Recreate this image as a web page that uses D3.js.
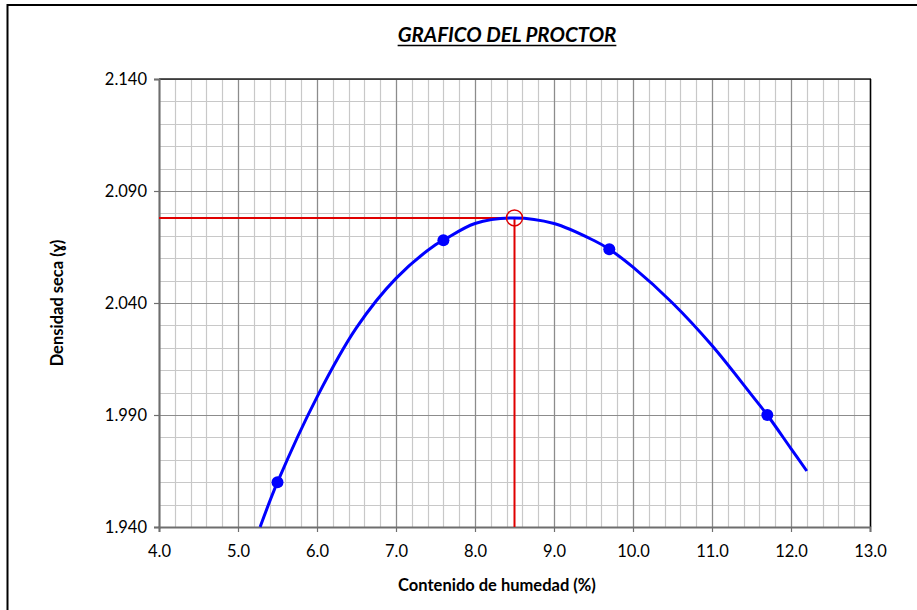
<!DOCTYPE html>
<html>
<head>
<meta charset="utf-8">
<script src="https://cdn.jsdelivr.net/npm/d3@7"></script>
<style>
  html, body { margin: 0; padding: 0; background: #fff; }
  svg { display: block; }
  text { font-family: Lato, "Open Sans", "Liberation Sans", sans-serif; fill: #000; }
</style>
</head>
<body>
<svg id="chart" width="917" height="610"></svg>
<script>
// Proctor test: measured points
const moisture = [5.5, 7.6, 9.7, 11.7];
const dryDensity = [1.960, 2.068, 2.064, 1.990];

// Compaction curve sampled along the moisture range
const curveMoisture = [5.28, 5.5, 6.0, 6.5, 7.0, 7.5, 7.6, 8.0, 8.5, 9.0, 9.5, 9.7, 10.0, 10.5, 11.0, 11.5, 11.7, 12.0, 12.2];
const curveDensity  = [1.940, 1.960, 1.998, 2.029, 2.051, 2.066, 2.068, 2.0755, 2.078, 2.0755, 2.068, 2.064, 2.056, 2.040, 2.021, 1.999, 1.990, 1.975, 1.965];

// Optimum moisture content and maximum dry density
const optimumMoisture = 8.5;
const maxDensity = 2.078;

// Axis ticks
const xTicks = [4, 5, 6, 7, 8, 9, 10, 11, 12, 13];
const yTicks = [1.940, 1.990, 2.040, 2.090, 2.140];

const svg = d3.select("#chart");
const plotL = 159, plotR = 870, plotT = 79, plotB = 527;

const x = d3.scaleLinear().domain([4, 13]).range([plotL, plotR]);
const y = d3.scaleLinear().domain([1.94, 2.14]).range([plotB, plotT]);

// Outer frame
svg.append("rect")
  .attr("x", 7.5).attr("y", 5).attr("width", 940).attr("height", 640)
  .attr("fill", "none").attr("stroke", "#000").attr("stroke-width", 2);

// Minor grid
const minorX = d3.range(4, 13.0001, 0.2);
const minorY = d3.range(1.94, 2.14001, 0.01);
const g = svg.append("g");
g.selectAll(".mx").data(minorX).join("line")
  .attr("x1", d => Math.round(x(d)) + 0.5).attr("x2", d => Math.round(x(d)) + 0.5)
  .attr("y1", plotT).attr("y2", plotB)
  .attr("stroke", "#c8c8c8").attr("stroke-width", 1.2);
g.selectAll(".my").data(minorY).join("line")
  .attr("y1", d => Math.round(y(d)) + 0.5).attr("y2", d => Math.round(y(d)) + 0.5)
  .attr("x1", plotL).attr("x2", plotR)
  .attr("stroke", "#c8c8c8").attr("stroke-width", 1.2);

// Major grid
g.selectAll(".Mx").data(xTicks).join("line")
  .attr("x1", d => Math.round(x(d)) + 0.5).attr("x2", d => Math.round(x(d)) + 0.5)
  .attr("y1", plotT).attr("y2", plotB)
  .attr("stroke", "#8c8c8c").attr("stroke-width", 1.2);
g.selectAll(".My").data(yTicks).join("line")
  .attr("y1", d => Math.round(y(d)) + 0.5).attr("y2", d => Math.round(y(d)) + 0.5)
  .attr("x1", plotL).attr("x2", plotR)
  .attr("stroke", "#8c8c8c").attr("stroke-width", 1.2);

// Plot border: top and right
svg.append("line").attr("x1", plotL).attr("x2", plotR + 1).attr("y1", plotT).attr("y2", plotT)
  .attr("stroke", "#222").attr("stroke-width", 1.5);
svg.append("line").attr("x1", plotR + 0.5).attr("x2", plotR + 0.5).attr("y1", plotT).attr("y2", plotB)
  .attr("stroke", "#000").attr("stroke-width", 1.5);

// Axes
const xAxis = d3.axisBottom(x).tickValues(xTicks).tickFormat(d3.format(".1f")).tickSize(5).tickPadding(13);
const yAxis = d3.axisLeft(y).tickValues(yTicks).tickFormat(d3.format(".3f")).tickSize(5).tickPadding(7);

const gx = svg.append("g").attr("transform", `translate(0,${plotB})`).call(xAxis);
const gy = svg.append("g").attr("transform", `translate(${plotL},0)`).call(yAxis);
[gx, gy].forEach(a => {
  a.select(".domain").attr("stroke", "#6e6e6e").attr("stroke-width", 2);
  a.selectAll(".tick line").attr("stroke", "#6e6e6e").attr("stroke-width", 1.2);
  a.selectAll(".tick text").style("font-size", "16.5px").style("font-family", "Lato, 'Open Sans', sans-serif").attr("fill", "#000");
});

// Red guide lines to the optimum
svg.append("line")
  .attr("x1", x(4)).attr("x2", x(optimumMoisture))
  .attr("y1", y(maxDensity)).attr("y2", y(maxDensity))
  .attr("stroke", "#e00000").attr("stroke-width", 2);
svg.append("line")
  .attr("x1", x(optimumMoisture)).attr("x2", x(optimumMoisture))
  .attr("y1", y(maxDensity)).attr("y2", y(1.94))
  .attr("stroke", "#e00000").attr("stroke-width", 2);

// Compaction curve
const curvePts = curveMoisture.map((m, i) => [m, curveDensity[i]]);
svg.append("path")
  .datum(curvePts)
  .attr("fill", "none").attr("stroke", "#0000ff").attr("stroke-width", 3)
  .attr("d", d3.line().x(d => x(d[0])).y(d => y(d[1])).curve(d3.curveCatmullRom.alpha(0.5)));

// Measured points
svg.selectAll(".pt").data(moisture.map((m, i) => [m, dryDensity[i]])).join("circle")
  .attr("cx", d => x(d[0])).attr("cy", d => y(d[1])).attr("r", 6)
  .attr("fill", "#0000ff");

// Optimum marker
svg.append("circle")
  .attr("cx", x(optimumMoisture)).attr("cy", y(maxDensity)).attr("r", 8)
  .attr("fill", "none").attr("stroke", "#e00000").attr("stroke-width", 1.5);

// Title
const title = svg.append("text")
  .attr("x", 507).attr("y", 42).attr("text-anchor", "middle")
  .style("font-size", "20.5px").style("font-weight", "bold").style("font-style", "italic")
  .text("GRAFICO DEL PROCTOR");
const tb = title.node().getBBox();
svg.append("line")
  .attr("x1", tb.x).attr("x2", tb.x + tb.width)
  .attr("y1", 45.5).attr("y2", 45.5)
  .attr("stroke", "#000").attr("stroke-width", 1.5);

// Axis titles
svg.append("text")
  .attr("x", 497).attr("y", 591).attr("text-anchor", "middle")
  .style("font-size", "16.5px").style("font-weight", "bold")
  .text("Contenido de humedad (%)");
svg.append("text")
  .attr("transform", `translate(63,${(plotT + plotB) / 2}) rotate(-90)`)
  .attr("text-anchor", "middle")
  .style("font-size", "16.5px").style("font-weight", "bold")
  .text("Densidad seca (ɣ)");
</script>
</body>
</html>
